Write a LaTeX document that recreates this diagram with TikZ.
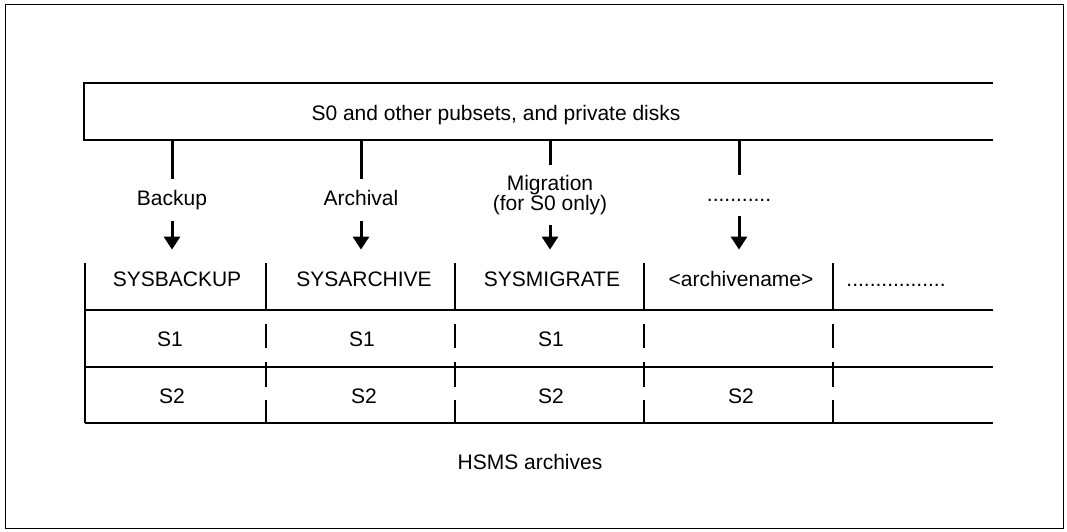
\documentclass[tikz,border=0pt]{standalone}
\usepackage{fontspec}
\setmainfont{Liberation Sans}
\usetikzlibrary{arrows.meta}

\tikzset{
  rule/.style={line width=0.8pt},
  stem/.style={line width=1.5pt},
  arr/.style={line width=1.5pt,-{Triangle[width=8pt,length=6.5pt]}},
  lbl/.style={inner xsep=2pt,inner ysep=5pt,align=center},
  oneline/.style={text height=8pt,text depth=2.5pt},
  cell/.style={oneline,inner xsep=2pt,inner ysep=10.25pt},
}

\begin{document}
\begin{tikzpicture}[x=0.5pt,y=-0.5pt,font=\fontsize{10.5}{10.3}\selectfont]
\useasboundingbox (0,0) rectangle (1067,531);
\draw[line width=0.5pt] (5,4) rectangle (1063,528); %outer frame

% pubsets box, open to the right
\draw[rule] (993,83)--(84,83)--(84,140)--(993,140);
\coordinate (poolsw) at (84,140);
\node[oneline] (pool) at (496,114.5) {S0 and other pubsets, and private disks};

\node[lbl,oneline] (bklbl) at (172,200) {Backup};
\node[lbl,oneline] (arlbl) at (361,200) {Archival};
\node[lbl] (milbl) at (550,195) {Migration\\(for S0 only)};
\node[lbl,oneline] (xxlbl) at (739,195.5) {...........};

% archives table
\draw[rule] (85,263)--(85,423);
\draw[rule] (85,310)--(993,310);
\draw[rule] (85,367)--(993,367);
\draw[rule] (85,423)--(993,423);
\foreach \x in {266,455,644,833}{
  \draw[rule] (\x,263)--(\x,310);
  \draw[rule] (\x,324)--(\x,348) (\x,362)--(\x,387) (\x,400)--(\x,423);
}

\node[cell] (sysbackup) at (177,281) {SYSBACKUP};
\node[cell] (sysarchive) at (364,281) {SYSARCHIVE};
\node[cell] (sysmigrate) at (552,281) {SYSMIGRATE};
\node[cell] (archname) at (741,281) {<archivename>};
\node[cell] (more) at (896,281) {.................};

\node[cell] (bks1) at (170,340.5) {S1};
\node[cell] (ars1) at (362,340.5) {S1};
\node[cell] (mis1) at (551,340.5) {S1};

\node[cell] (bks2) at (172,397.5) {S2};
\node[cell] (ars2) at (364,397.5) {S2};
\node[cell] (mis2) at (551,397.5) {S2};
\node[cell] (ans2) at (741,397.5) {S2};

\node[oneline] (hsms) at (530,463.5) {HSMS archives};

% flows
\draw[stem] (poolsw -| bklbl) -- (bklbl);
\draw[stem] (poolsw -| arlbl) -- (arlbl);
\draw[stem] (poolsw -| milbl) -- (milbl);
\draw[stem] (poolsw -| xxlbl) -- (xxlbl);
\draw[arr] (bklbl) -- (bklbl |- sysbackup.north);
\draw[arr] (arlbl) -- (arlbl |- sysarchive.north);
\draw[arr] (milbl) -- (milbl |- sysmigrate.north);
\draw[arr] (xxlbl) -- (xxlbl |- archname.north);

\end{tikzpicture}
\end{document}
